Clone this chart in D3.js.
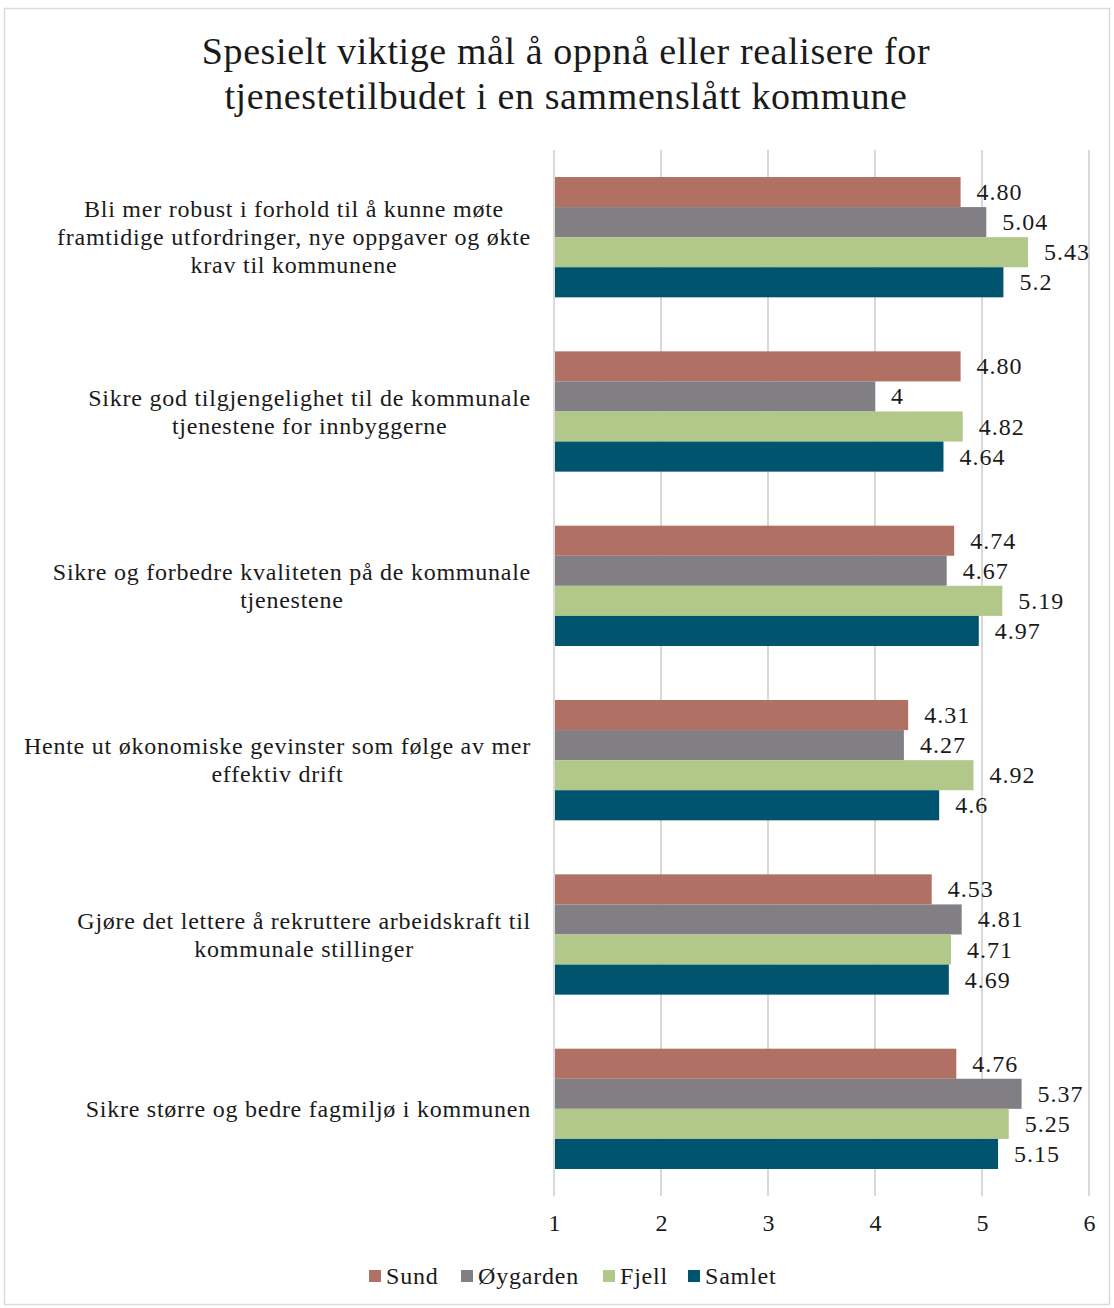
<!DOCTYPE html>
<html>
<head>
<meta charset="utf-8">
<script src="https://cdn.jsdelivr.net/npm/d3@7"></script>
<style>
  body { margin: 0; background: #fff; }
  text { font-family: "Liberation Serif", "Times New Roman", serif; fill: #1a1a1a; }
</style>
</head>
<body>
<div id="chart"></div>
<script>
var titleLines = ["Spesielt viktige mål å oppnå eller realisere for", "tjenestetilbudet i en sammenslått kommune"];

var categories = [
    ["Bli mer robust i forhold til å kunne møte", "framtidige utfordringer, nye oppgaver og økte", "krav til kommunene"],
    ["Sikre god tilgjengelighet til de kommunale", "tjenestene for innbyggerne"],
    ["Sikre og forbedre kvaliteten på de kommunale", "tjenestene"],
    ["Hente ut økonomiske gevinster som følge av mer", "effektiv drift"],
    ["Gjøre det lettere å rekruttere arbeidskraft til", "kommunale stillinger"],
    ["Sikre større og bedre fagmiljø i kommunen"]
];

var series = ["Sund", "Øygarden", "Fjell", "Samlet"];
var colors = ["#B07064", "#817F84", "#B2C88A", "#00546E"];

// values as shown in the labels
var sund     = ["4.80", "4.80", "4.74", "4.31", "4.53", "4.76"];
var oygarden = ["5.04", "4",    "4.67", "4.27", "4.81", "5.37"];
var fjell    = ["5.43", "4.82", "5.19", "4.92", "4.71", "5.25"];
var samlet   = ["5.2",  "4.64", "4.97", "4.6",  "4.69", "5.15"];

var xTicks = [1, 2, 3, 4, 5, 6];

var allValues = [sund, oygarden, fjell, samlet];

var W = 1114, H = 1308;
var margin = {top: 150, right: 25, bottom: 112, left: 554};

var svg = d3.select("#chart").append("svg")
    .attr("width", W)
    .attr("height", H);

// outer frame
svg.append("rect")
    .attr("x", 4.5).attr("y", 8.5)
    .attr("width", W - 9).attr("height", H - 12)
    .attr("fill", "#fff")
    .attr("stroke", "#d9d9d9")
    .attr("stroke-width", 1.5);

// title
svg.append("g").selectAll("text")
    .data(titleLines)
    .enter().append("text")
    .attr("x", 566)
    .attr("y", function(d, i) { return 64 + i * 45; })
    .attr("text-anchor", "middle")
    .style("font-size", "38px")
    .style("letter-spacing", "0.6px")
    .text(function(d) { return d; });

var x = d3.scaleLinear()
    .domain([1, 6])
    .range([margin.left, W - margin.right]);

var idx = d3.range(categories.length);

var y = d3.scaleBand()
    .domain(idx)
    .range([margin.top, H - margin.bottom])
    .paddingInner(0.31)
    .paddingOuter(0.155);

var ySub = d3.scaleBand()
    .domain(series)
    .range([0, y.bandwidth()]);

// gridlines
svg.append("g").selectAll("line")
    .data(xTicks)
    .enter().append("line")
    .attr("x1", function(d) { return x(d); })
    .attr("x2", function(d) { return x(d); })
    .attr("y1", margin.top)
    .attr("y2", H - margin.bottom)
    .attr("stroke", "#d9d9d9")
    .attr("stroke-width", 2);

// x axis
var xAxis = svg.append("g")
    .attr("transform", "translate(0," + (H - margin.bottom) + ")")
    .call(d3.axisBottom(x).tickValues(xTicks).tickSize(0).tickPadding(18).tickFormat(d3.format("d")));
xAxis.select(".domain").remove();
xAxis.selectAll("text")
    .style("font-family", "'Liberation Serif', serif")
    .style("font-size", "24px")
    .attr("fill", "#1a1a1a");

// bars
var groups = svg.append("g").selectAll("g")
    .data(idx)
    .enter().append("g")
    .attr("transform", function(i) { return "translate(0," + y(i) + ")"; });

function rows(i) {
    return series.map(function(s, k) { return {s: s, k: k, v: allValues[k][i]}; });
}

groups.selectAll("rect")
    .data(rows)
    .enter().append("rect")
    .attr("x", x(1) + 1)
    .attr("y", function(d) { return ySub(d.s); })
    .attr("width", function(d) { return x(+d.v) - x(1) - 1; })
    .attr("height", ySub.bandwidth())
    .attr("fill", function(d) { return colors[d.k]; });

groups.selectAll("text.val")
    .data(rows)
    .enter().append("text")
    .attr("class", "val")
    .attr("x", function(d) { return x(+d.v) + 16; })
    .attr("y", function(d) { return ySub(d.s) + ySub.bandwidth() / 2 + 8; })
    .style("font-size", "24px")
    .style("letter-spacing", "1px")
    .text(function(d) { return d.v; });

// category labels, each block right-aligned, lines centred in block
var labelRight = 531, lineH = 28;
idx.forEach(function(i) {
    var lines = categories[i];
    var g = svg.append("g");
    var texts = g.selectAll("text")
        .data(lines)
        .enter().append("text")
        .style("font-size", "24px")
        .style("letter-spacing", "0.75px")
        .attr("text-anchor", "middle")
        .text(function(d) { return d; });
    var maxW = 0;
    texts.each(function() { maxW = Math.max(maxW, this.getComputedTextLength()); });
    var cx = labelRight - maxW / 2;
    var cy = y(i) + y.bandwidth() / 2 - (lines.length - 1) * lineH / 2;
    texts.attr("x", cx)
        .attr("y", function(d, j) { return cy + j * lineH + 8; });
});

// legend
var legendX = [369, 461, 603, 688];
var legend = svg.append("g").selectAll("g")
    .data(series)
    .enter().append("g")
    .attr("transform", function(d, k) { return "translate(" + legendX[k] + "," + 1276 + ")"; });
legend.append("rect")
    .attr("x", 0).attr("y", -6)
    .attr("width", 12).attr("height", 12)
    .attr("fill", function(d, k) { return colors[k]; });
legend.append("text")
    .attr("x", 17).attr("y", 8)
    .style("font-size", "24px")
    .style("letter-spacing", "0.8px")
    .text(function(d) { return d; });
</script>
</body>
</html>
